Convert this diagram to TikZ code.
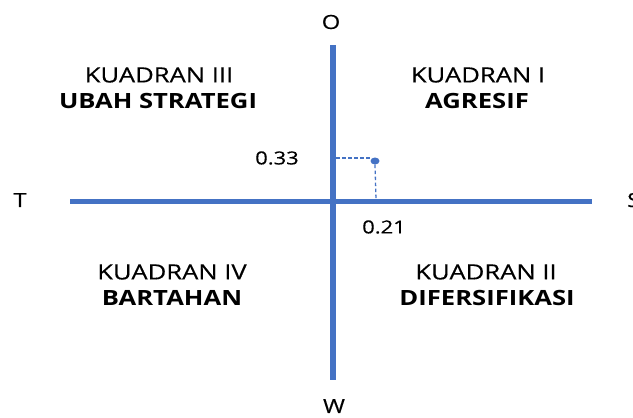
\documentclass[tikz,border=0pt]{standalone}
\usepackage{fontspec}
\usetikzlibrary{shapes.geometric}
\setmainfont{Open Sans}[FakeStretch=1.22,UprightFeatures={FakeBold=0.4}]
\definecolor{axisblue}{HTML}{4472C4}
\begin{document}
\begin{tikzpicture}[x=1pt,y=-1pt,
  axis/.style={draw=axisblue,line width=5pt},
  guide/.style={draw=axisblue,line width=1.3pt,dash pattern=on 3.5pt off 2.5pt},
  quadlabel/.style={font=\fontsize{21}{24}\selectfont,align=center,inner sep=0pt},
  endlabel/.style={font=\fontsize{19.5}{22}\selectfont,inner sep=0pt},
  numlabel/.style={font=\fontsize{18}{22}\selectfont,inner sep=0pt}]
  \useasboundingbox (0,0) rectangle (633,418);

  % axes
  \coordinate (xl) at (70,201);
  \coordinate (xr) at (592,201);
  \coordinate (yt) at (333,45);
  \coordinate (yb) at (333,380);
  \draw[axis] (xl) -- (xr);
  \draw[axis,line width=6pt] (yt) -- (yb);

  % axis end labels
  \node[endlabel] (T) at (20,200) {T};
  \node[endlabel,anchor=west] (S) at (627,200) {S};
  \node[endlabel] (O) at (331,22) {O};
  \node[endlabel] (W) at (334,406) {W};

  % position point and its guide lines
  \node[ellipse,fill=axisblue,minimum width=9pt,minimum height=7pt,inner sep=0pt] (pt) at (375,161) {};
  \coordinate (py) at (336,158);
  \coordinate (px) at (376,199);
  \draw[guide] (py) -- (py -| pt.west);
  \draw[guide] (pt.south) -- (px);
  \node[numlabel] (n33) at (277,158) {0.33};
  \node[numlabel] (n21) at (384,227) {0.21};

  % quadrant labels
  \node[quadlabel] (q3) at (159,75) {KUADRAN III};
  \node[quadlabel] (q3b) at (158,101) {\bfseries UBAH STRATEGI};
  \node[quadlabel] (q1) at (478,75) {KUADRAN I};
  \node[quadlabel] (q1b) at (477,101) {\bfseries AGRESIF};
  \node[quadlabel] (q4) at (172,272) {KUADRAN IV};
  \node[quadlabel] (q4b) at (172,298) {\bfseries BARTAHAN};
  \node[quadlabel] (q2) at (486,272) {KUADRAN II};
  \node[quadlabel] (q2b) at (487,298) {\bfseries DIFERSIFIKASI};
\end{tikzpicture}
\end{document}
